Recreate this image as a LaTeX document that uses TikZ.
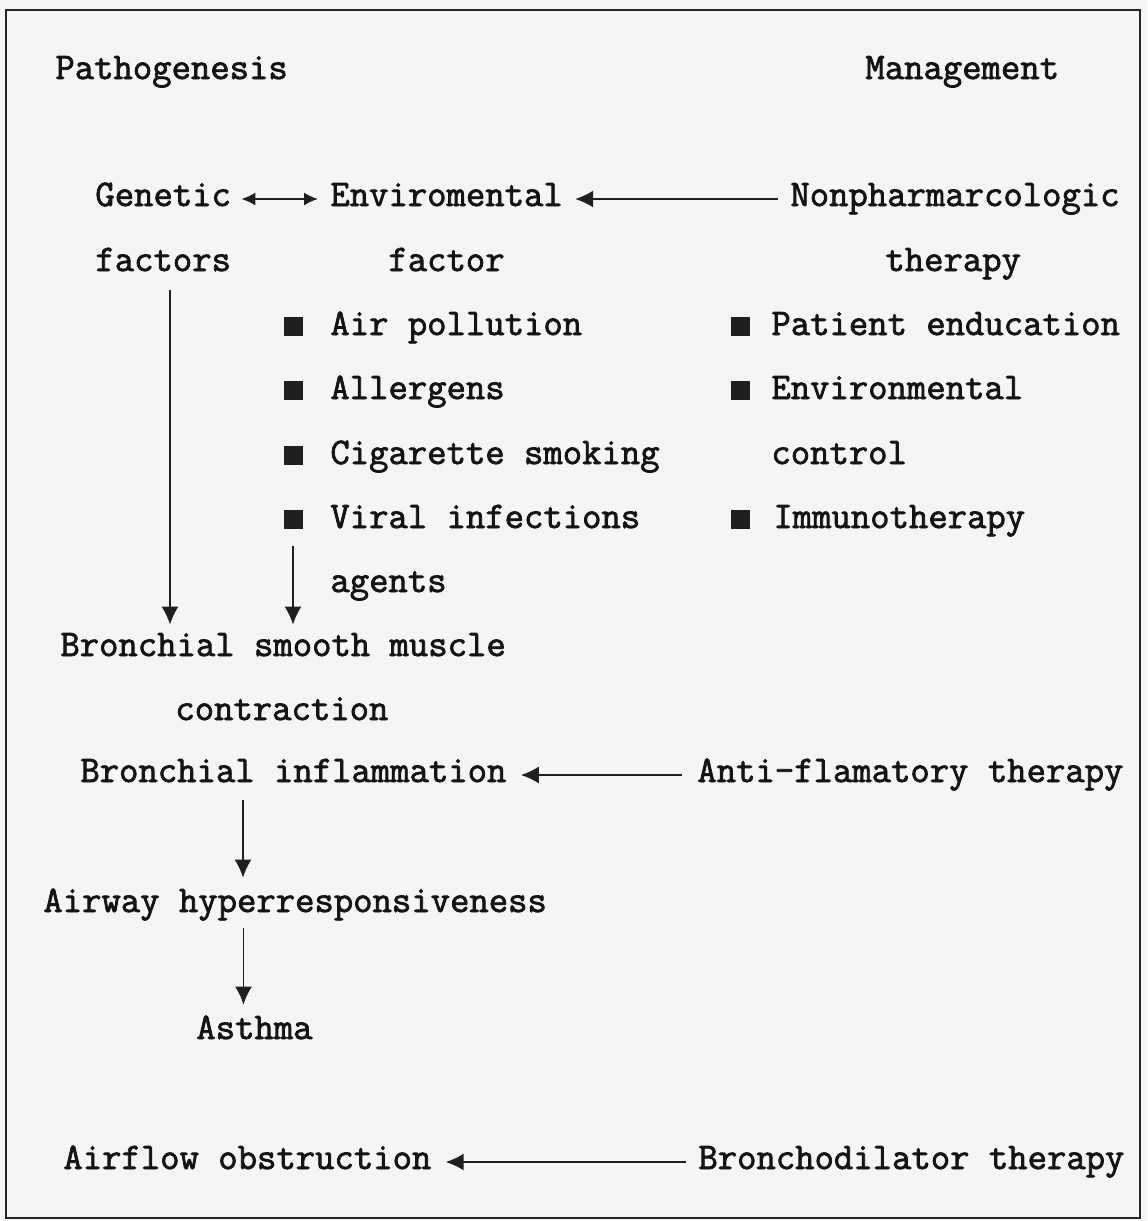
\documentclass[tikz,border=0pt]{standalone}
\usepackage{fontspec}
\newfontfamily\typew{Latin Modern Mono}[FakeBold=2]
\usetikzlibrary{arrows.meta}
\begin{document}
\begin{tikzpicture}[x=0.5pt,y=-0.5pt,
  txt/.style={anchor=base west,inner sep=0pt,text height=10pt,text depth=3pt,
    font=\fontsize{18.8}{21}\typew,text=black!92},
  bul/.style={fill=black!88,draw=none,minimum size=9.5pt,inner sep=0pt},
  arr/.style={line width=0.9pt,draw=black!88,-{Latex[length=9pt,width=8.5pt]}},
  darr/.style={line width=0.9pt,draw=black!88,{Latex[length=7pt,width=6.5pt]}-{Latex[length=7pt,width=6.5pt]}}]
\useasboundingbox (0,0) rectangle (1147,1221);
\fill[black!4] (0,0) rectangle (1147,1221);
\draw[line width=1pt,black!85] (6,10) rectangle (1140,1218);

\node[txt] (path) at (55,79) {Pathogenesis};
\node[txt] (mgmt) at (865,79) {Management};

\node[txt] (gen) at (95,206) {Genetic};
\node[txt] (env) at (330,206) {Enviromental};
\node[txt] (nonph) at (790,206) {Nonpharmarcologic};
\node[txt] (factors) at (95,271) {factors};
\node[txt] (factor) at (388,271) {factor};
\node[txt] (ther1) at (885,271) {therapy};

\node[bul] (b1) at (293,326) {};
\node[bul] (b2) at (293,390) {};
\node[bul] (b3) at (293,455) {};
\node[bul] (b4) at (293,519) {};
\node[bul] (b5) at (740,326) {};
\node[bul] (b6) at (740,390) {};
\node[bul] (b7) at (740,519) {};

\node[txt] (air) at (330,335) {Air pollution};
\node[txt] (pat) at (771,335) {Patient enducation};
\node[txt] (allerg) at (330,399) {Allergens};
\node[txt] (envc) at (771,399) {Environmental};
\node[txt] (cig) at (330,464) {Cigarette smoking};
\node[txt] (control) at (771,464) {control};
\node[txt] (viral) at (330,528) {Viral infections};
\node[txt] (immuno) at (773,528) {Immunotherapy};
\node[txt] (agents) at (330,592) {agents};

\node[txt] (bsm) at (60,656) {Bronchial smooth muscle};
\node[txt] (contr) at (175,720) {contraction};
\node[txt] (infl) at (80,782) {Bronchial inflammation};
\node[txt] (anti) at (697,782) {Anti-flamatory therapy};
\node[txt] (airway) at (43,912) {Airway hyperresponsiveness};
\node[txt] (asthma) at (196,1039) {Asthma};
\node[txt] (airflow) at (63,1169) {Airflow obstruction};
\node[txt] (broncho) at (698,1169) {Bronchodilator therapy};

\draw[darr,shorten <=5pt,shorten >=6pt] (gen.east) -- (env.west);
\draw[arr,shorten <=6pt,shorten >=6pt] (nonph.west) -- (env.east);
\draw[arr,shorten <=7.5pt,shorten >=7pt] (anti.west) -- (infl.east);
\draw[arr,shorten <=6pt,shorten >=7pt] (broncho.west) -- (airflow.east);

\draw[arr,shorten <=6.5pt,shorten >=5.5pt] ([xshift=37.5pt]factors.south west) -- ([xshift=37.5pt]factors.south west |- bsm.north);
\draw[arr,shorten <=8.5pt,shorten >=5.5pt] (b4.south) -- (b4.south |- bsm.north);
\draw[arr,shorten <=6pt,shorten >=7pt] ([xshift=81.5pt]infl.south west) -- ([xshift=81.5pt]infl.south west |- airway.north);
\draw[arr,shorten <=5pt,shorten >=7pt] ([xshift=-5.5pt]asthma.north |- airway.south) -- ([xshift=-5.5pt]asthma.north);
\end{tikzpicture}
\end{document}
